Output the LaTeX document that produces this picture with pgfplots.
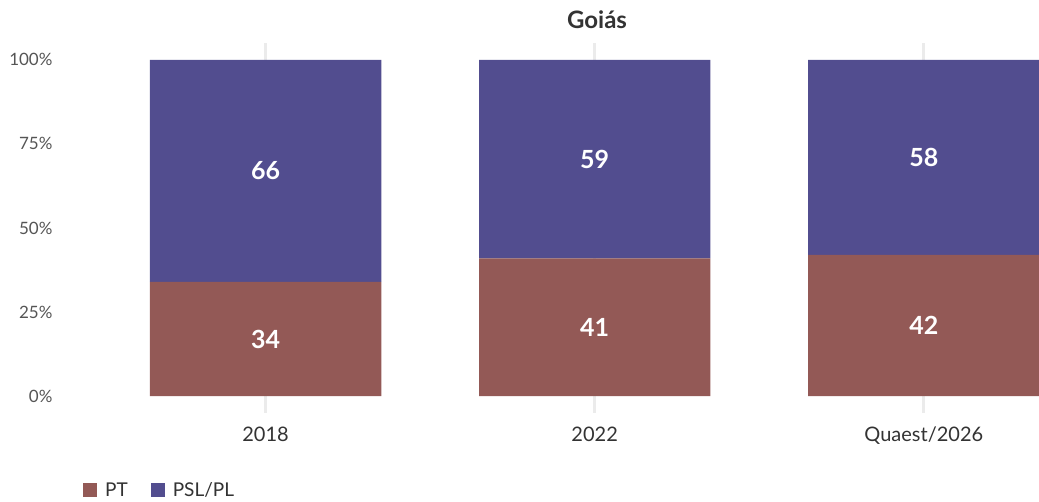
\documentclass[border=0pt]{standalone}
\usepackage{fontspec}
\setmainfont{Lato}
\usepackage{pgfplots}
\pgfplotsset{compat=1.18}
\definecolor{ptc}{RGB}{147,89,86}
\definecolor{pslc}{RGB}{82,77,143}
\definecolor{gridc}{RGB}{235,235,235}
\definecolor{txtc}{RGB}{51,51,51}
\definecolor{tickc}{RGB}{85,85,85}
\begin{document}
\begin{tikzpicture}[x=1pt,y=1pt]
\useasboundingbox (0,0) rectangle (1039,502);
\begin{axis}[
  at={(101pt,89pt)}, anchor=south west, scale only axis,
  width=938pt, height=370pt,
  xmin=-0.5, xmax=2.35, ymin=-5, ymax=105,
  ybar stacked, bar width=0.703,
  axis line style={draw=none}, major tick length=0pt,
  xtick={0,1,2}, xticklabels={2018,2022,Quaest/2026},
  ytick={0,25,50,75,100}, yticklabels={0\%,25\%,50\%,75\%,100\%},
  xmajorgrids, grid style={draw=gridc, line width=3pt},
  xticklabel style={font=\fontsize{20}{20}\selectfont, text=txtc, yshift=-10pt},
  yticklabel style={font=\fontsize{17}{17}\selectfont, text=tickc, anchor=east, xshift=-45pt},
  legend style={at={(-0.0192,-0.208)}, anchor=west, draw=none, fill=none,
    legend columns=-1, inner sep=0pt, font=\fontsize{19}{19}\selectfont, text=txtc,
    /tikz/every odd column/.append style={column sep=6pt},
    /tikz/every even column/.append style={column sep=21pt}},
]
\addplot[fill=ptc, draw=none, legend image code/.code={\fill[ptc] (0pt,-7pt) rectangle (14pt,7pt);}] coordinates {(0,34) (1,41) (2,42)};
\addplot[fill=pslc, draw=none, legend image code/.code={\fill[pslc] (0pt,-7pt) rectangle (14pt,7pt);}] coordinates {(0,66) (1,59) (2,58)};
\legend{PT, PSL/PL}
\end{axis}
\begin{axis}[
  at={(101pt,89pt)}, anchor=south west, scale only axis,
  width=938pt, height=370pt,
  xmin=-0.5, xmax=2.35, ymin=-5, ymax=105,
  hide axis,
]
\addplot[draw=none, mark=none, nodes near coords, point meta=explicit symbolic,
  nodes near coords style={anchor=center, text=white, font=\bfseries\fontsize{25}{25}\selectfont}]
  table[meta=lbl] {
x y lbl
0 17 34
1 20.5 41
2 21 42
0 67 66
1 70.5 59
2 71 58
};
\end{axis}
\node[font=\bfseries\fontsize{24}{24}\selectfont, text=txtc] at (597,482) {Goiás};
\end{tikzpicture}
\end{document}
